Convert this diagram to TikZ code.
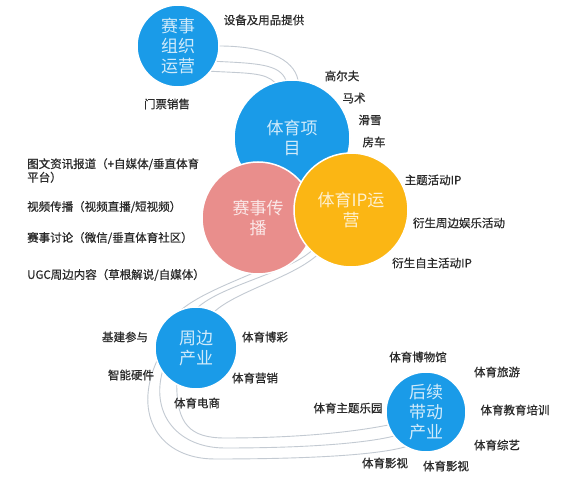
\documentclass[tikz,border=0pt]{standalone}
\usepackage{fontspec}
\setmainfont{Noto Sans CJK SC}
\newfontfamily\labfont{Noto Sans CJK SC}[FakeBold=0.7]
\usetikzlibrary{backgrounds}
\definecolor{bblue}{HTML}{1A9BE8}
\definecolor{bpink}{HTML}{E98E8C}
\definecolor{byel}{HTML}{FBB614}
\definecolor{labc}{HTML}{2A2A2A}
\definecolor{linec}{HTML}{C3CAD2}
\begin{document}
\begin{tikzpicture}[x=1pt,y=-1pt,
  bub/.style={circle, draw=white, line width=1.5pt, inner sep=0pt, outer sep=0pt,
    align=center, text=white, text opacity=0.8, font=\fontsize{17}{20}\selectfont},
  lab/.style={text=labc, font=\labfont\fontsize{11.5}{13.5}\selectfont, inner sep=0pt},
  conn/.style={draw=linec, line width=0.9pt}]
\useasboundingbox (0,0) rectangle (582,478);
% circles
\node[bub, fill=bblue, minimum size=82pt] (org) at (178,46) {赛事\\组织\\运营};
\node[bub, fill=bblue, minimum size=116pt] (proj) at (292,138) {体育项\\目};
\node[bub, fill=bpink, minimum size=112pt] (spread) at (258,218) {赛事传\\播};
\node[bub, fill=byel, minimum size=114pt] (ip) at (351,210) {体育IP运\\营};
\node[bub, fill=bblue, minimum size=82pt] (zb) at (196,348) {周边\\产业};
\node[bub, fill=bblue, minimum size=80pt] (hx) at (426,412) {后续\\带动\\产业};
% connectors
\begin{scope}[on background layer]
\fill[white] (0,0) rectangle (582,478);
\draw[conn] (org.0) .. controls +(45,0) and +(-4,-22) .. (proj.84);
\draw[conn] (org.-22) .. controls +(42,2) and +(-6,-16) .. (proj.96);
\draw[conn] (org.-38) .. controls +(38,2) and +(-10,-10) .. (proj.107);
\draw[conn] (ip.218) .. controls +(-25,22) and +(30,-25) .. (zb.111);
\draw[conn] (ip.226) .. controls +(-25,22) and +(25,-22) .. (zb.87);
\draw[conn] (ip.233) .. controls +(-25,22) and +(22,-20) .. (zb.63);
\draw[conn] (zb.198) .. controls +(-25,55) and +(-55,0) .. (215,459)
   .. controls +(120,0) and +(-20,6) .. (hx.240);
\draw[conn] (zb.215) .. controls +(-12,45) and +(-45,0) .. (225,448)
   .. controls +(100,0) and +(-20,5) .. (hx.217);
\draw[conn] (zb.242) .. controls +(0,40) and +(-35,0) .. (225,438)
   .. controls +(90,0) and +(-20,4) .. (hx.199);
\end{scope}
% labels
\node[lab] (l1) at (264,20) {设备及用品提供};
\node[lab] (l2) at (167,104) {门票销售};
\node[lab] (l3) at (342,76) {高尔夫};
\node[lab] (l4) at (354,98) {马术};
\node[lab] (l5) at (370,120) {滑雪};
\node[lab] (l6) at (374,142) {房车};
\node[lab] (l7) at (433,180) {主题活动IP};
\node[lab] (l8) at (459,223) {衍生周边娱乐活动};
\node[lab] (l9) at (432,263) {衍生自主活动IP};
\node[lab, anchor=west, align=left] (m1) at (27,170.5) {图文资讯报道（+自媒体/垂直体育\\平台）};
\node[lab, anchor=west] (m2) at (27,207) {视频传播（视频直播/短视频）};
\node[lab, anchor=west] (m3) at (27,238) {赛事讨论（微信/垂直体育社区）};
\node[lab, anchor=west] (m4) at (27,275) {UGC周边内容（草根解说/自媒体）};
\node[lab] (z1) at (125,337) {基建参与};
\node[lab] (z2) at (131,375) {智能硬件};
\node[lab] (z3) at (265,337) {体育博彩};
\node[lab] (z4) at (255,378) {体育营销};
\node[lab] (z5) at (197,403) {体育电商};
\node[lab] (h1) at (418,357) {体育博物馆};
\node[lab] (h2) at (497,372) {体育旅游};
\node[lab] (h3) at (348,408) {体育主题乐园};
\node[lab] (h4) at (515,410) {体育教育培训};
\node[lab] (h5) at (497,445) {体育综艺};
\node[lab] (h6) at (385,463) {体育影视};
\node[lab] (h7) at (446,466) {体育影视};
\end{tikzpicture}
\end{document}
